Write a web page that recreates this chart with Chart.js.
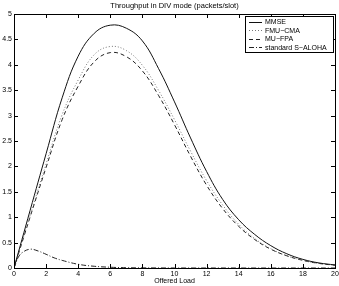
<!DOCTYPE html>
<html>
<head>
<meta charset="utf-8">
<script src="https://cdn.jsdelivr.net/npm/chart.js@4.4.0/dist/chart.umd.min.js"></script>
<style>
  html, body { margin: 0; padding: 0; background: #fff; }
  #wrap { width: 339px; height: 286px; }
</style>
</head>
<body>
<div id="wrap"><canvas id="chart" width="339" height="286"></canvas></div>
<script>
// values
const chartTitle = 'Throughput in DIV mode (packets/slot)';
const xTitle = 'Offered Load';
const loadX = [0, 1, 2, 3, 4, 5, 6, 7, 8, 9, 10, 11, 12, 13, 14, 15, 16, 17, 18, 19, 20];
const mmse = [0, 1.13, 2.25, 3.35, 4.17, 4.62, 4.78, 4.72, 4.47, 3.93, 3.27, 2.56, 1.9, 1.35, 0.95, 0.66, 0.44, 0.28, 0.17, 0.1, 0.06];
const fmuCma = [0, 1.03, 2.05, 3.02, 3.7, 4.2, 4.36, 4.28, 3.99, 3.5, 2.92, 2.3, 1.72, 1.24, 0.86, 0.58, 0.38, 0.24, 0.15, 0.09, 0.055];
const muFpa = [0, 1.0, 1.98, 2.92, 3.58, 4.06, 4.24, 4.16, 3.88, 3.4, 2.82, 2.2, 1.63, 1.17, 0.82, 0.56, 0.37, 0.24, 0.15, 0.09, 0.055];
const alohaX = [0, 0.25, 0.5, 1, 1.5, 2, 2.5, 3, 4, 5, 6, 7, 8, 10, 14, 20];
const aloha = [0, 0.2, 0.3, 0.37, 0.335, 0.27, 0.2, 0.15, 0.073, 0.034, 0.015, 0.006, 0.003, 0.0005, 0, 0];
const seriesNames = ['MMSE', 'FMU\u2212CMA', 'MU\u2212FPA', 'standard S\u2212ALOHA'];
const xTicks = [0, 2, 4, 6, 8, 10, 12, 14, 16, 18, 20];
const yTicks = [0, 0.5, 1, 1.5, 2, 2.5, 3, 3.5, 4, 4.5, 5];

const FONT = 'Helvetica, Arial, "Liberation Sans", sans-serif';

function pts(xs, ys) {
    return xs.map((x, i) => ({ x: x, y: ys[i] }));
}

// matlab style box, inward ticks, title and legend
const matlabFrame = {
    id: 'matlabFrame',
    afterDatasetsDraw(chart) {
        const ctx = chart.ctx;
        const a = chart.chartArea;
        const xs = chart.scales.x;
        const ys = chart.scales.y;
        ctx.save();
        ctx.strokeStyle = '#000';
        ctx.lineWidth = 1;
        ctx.setLineDash([]);
        ctx.strokeRect(Math.round(a.left) + 0.5, Math.round(a.top) + 0.5,
            Math.round(a.right - a.left), Math.round(a.bottom - a.top));
        const tl = 4;
        ctx.beginPath();
        xTicks.forEach(v => {
            const px = Math.round(xs.getPixelForValue(v)) + 0.5;
            ctx.moveTo(px, a.bottom); ctx.lineTo(px, a.bottom - tl);
            ctx.moveTo(px, a.top); ctx.lineTo(px, a.top + tl);
        });
        yTicks.forEach(v => {
            const py = Math.round(ys.getPixelForValue(v)) + 0.5;
            ctx.moveTo(a.left, py); ctx.lineTo(a.left + tl, py);
            ctx.moveTo(a.right, py); ctx.lineTo(a.right - tl, py);
        });
        ctx.stroke();

        // title
        ctx.fillStyle = '#000';
        ctx.font = '7.5px ' + FONT;
        ctx.textAlign = 'center';
        ctx.textBaseline = 'middle';
        ctx.fillText(chartTitle, (a.left + a.right) / 2, 6);

        // legend
        const lx = 245, ly = 16, lw = 88, lh = 36;
        ctx.fillStyle = '#fff';
        ctx.fillRect(lx, ly, lw, lh);
        ctx.strokeRect(lx + 0.5, ly + 0.5, lw, lh);
        ctx.font = '7px ' + FONT;
        ctx.textAlign = 'left';
        chart.data.datasets.forEach((ds, i) => {
            const y = ly + 6 + i * 8.4;
            ctx.strokeStyle = ds.borderColor;
            ctx.setLineDash(ds.borderDash || []);
            ctx.beginPath();
            ctx.moveTo(249, Math.round(y) + 0.5);
            ctx.lineTo(262, Math.round(y) + 0.5);
            ctx.stroke();
            ctx.fillStyle = '#000';
            ctx.fillText(ds.label, 265, y + 0.5);
        });
        ctx.restore();
    }
};

new Chart(document.getElementById('chart'), {
    type: 'line',
    data: {
        datasets: [{
            label: seriesNames[0],
            data: pts(loadX, mmse),
            borderColor: '#111',
            borderWidth: 1,
            tension: 0.4
        }, {
            label: seriesNames[1],
            data: pts(loadX, fmuCma),
            borderColor: '#777',
            borderWidth: 1,
            borderDash: [1, 2],
            tension: 0.4
        }, {
            label: seriesNames[2],
            data: pts(loadX, muFpa),
            borderColor: '#222',
            borderWidth: 1,
            borderDash: [4, 3],
            tension: 0.4
        }, {
            label: seriesNames[3],
            data: pts(alohaX, aloha),
            borderColor: '#222',
            borderWidth: 1,
            borderDash: [5, 2, 1, 2],
            tension: 0.4
        }]
    },
    options: {
        responsive: false,
        animation: false,
        elements: { point: { radius: 0 } },
        layout: { padding: { top: 14, right: 4, left: 0, bottom: 0 } },
        plugins: {
            legend: { display: false },
            title: { display: false },
            tooltip: { enabled: false }
        },
        scales: {
            x: {
                type: 'linear',
                min: 0,
                max: 20,
                grid: { display: false, drawTicks: false },
                border: { display: false },
                afterBuildTicks: (s) => { s.ticks = xTicks.map(v => ({ value: v })); },
                afterFit: (s) => {
                    s.height = 18;
                    s.paddingLeft = 0;
                    s.paddingRight = 0;
                },
                ticks: {
                    color: '#000',
                    font: { size: 7, family: FONT },
                    padding: 2,
                    maxRotation: 0,
                    autoSkip: false,
                    callback: (v) => String(v)
                },
                title: {
                    display: true,
                    text: xTitle,
                    color: '#000',
                    font: { size: 7, family: FONT },
                    padding: { top: 0, bottom: 1 }
                }
            },
            y: {
                min: 0,
                max: 5,
                grid: { display: false, drawTicks: false },
                border: { display: false },
                afterBuildTicks: (s) => { s.ticks = yTicks.map(v => ({ value: v })); },
                afterFit: (s) => {
                    s.width = 14;
                    s.paddingTop = 0;
                    s.paddingBottom = 0;
                },
                ticks: {
                    color: '#000',
                    font: { size: 7, family: FONT },
                    padding: 2,
                    autoSkip: false,
                    callback: (v) => String(v)
                }
            }
        }
    },
    plugins: [matlabFrame]
});
</script>
</body>
</html>
